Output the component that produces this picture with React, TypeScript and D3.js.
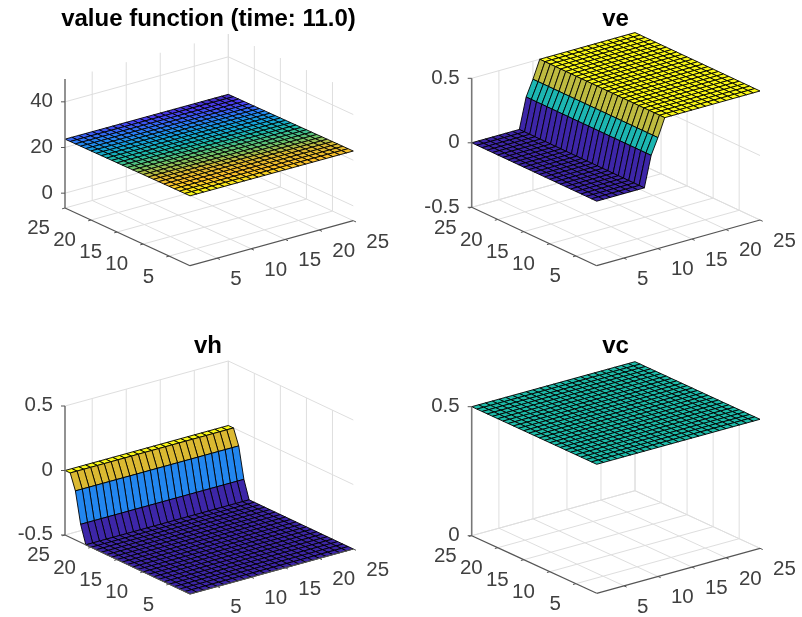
import React from "react";
import * as d3 from "d3";

// ---- data -------------------------------------------------------------
const gridX = [1,2,3,4,5,6,7,8,9,10,11,12,13,14,15,16,17,18,19,20,21,22,23,24,25];
const gridY = [1,2,3,4,5,6,7,8,9,10,11,12,13,14,15,16,17,18,19,20,21,22,23,24,25];
const floorTicks = [5,10,15,20,25];

// value function: level along y (at x = 1) and its small drop along x
const valueByY = [24.10,24.08,24.06,24.05,24.03,24.01,23.99,23.97,23.95,23.94,23.92,23.90,23.88,23.86,23.84,23.83,23.81,23.79,23.77,23.75,23.73,23.72,23.70,23.68,23.66];
const valueDropByX = [0,-0.004,-0.008,-0.011,-0.015,-0.019,-0.022,-0.026,-0.03,-0.034,-0.037,-0.041,-0.045,-0.049,-0.052,-0.056,-0.06,-0.064,-0.067,-0.071,-0.075,-0.079,-0.082,-0.086,-0.09];
// ve depends on x only
const veByX = [0,0,0,0,0,0,0,0,0.237,0.36,0.5,0.5,0.5,0.5,0.5,0.5,0.5,0.5,0.5,0.5,0.5,0.5,0.5,0.5,0.5];
// vh depends on y only
const vhByY = [-0.5,-0.5,-0.5,-0.5,-0.5,-0.5,-0.5,-0.5,-0.5,-0.5,-0.5,-0.5,-0.5,-0.5,-0.5,-0.5,-0.5,-0.5,-0.5,-0.5,-0.5,-0.36,-0.12,0,0];
// vc is flat
const vcLevel = 0.5;

const parulaStops = ["#3e26a8","#4a3af0","#2a7cf6","#12a5d8","#1fbba8","#6cc36a","#d8b832","#fbbf2a","#f9f816"];

// ---- panels -----------------------------------------------------------
type Panel = {
  title: string; titleY: number; cx: number;
  F: [number, number]; L: [number, number]; R: [number, number]; H: number;
  zDomain: [number, number]; zTicks: number[]; zLabels: string[];
  z: (i: number, j: number) => number;
  clim: [number, number];
};

const panels: Panel[] = [
  { title: "value function (time: 11.0)", titleY: 25.5, cx: 208.5, F: [190,265.7], L: [65,208], R: [353.3,220.7], H: 129,
    zDomain: [-6.5,50], zTicks: [0,20,40], zLabels: ["0","20","40"],
    z: (i, j) => valueByY[j] + valueDropByX[i], clim: [23.57,24.10] },
  { title: "ve", titleY: 25.5, cx: 615.5, F: [596.7,265.7], L: [471.7,207.3], R: [760,220], H: 129,
    zDomain: [-0.5,0.5], zTicks: [-0.5,0,0.5], zLabels: ["-0.5","0","0.5"],
    z: (i) => veByX[i], clim: [0,0.5] },
  { title: "vh", titleY: 352.5, cx: 208, F: [190,594], L: [65,535], R: [353.3,549], H: 129,
    zDomain: [-0.5,0.5], zTicks: [-0.5,0,0.5], zLabels: ["-0.5","0","0.5"],
    z: (_i, j) => vhByY[j], clim: [-0.5,0] },
  { title: "vc", titleY: 352.5, cx: 615.5, F: [596.7,593.3], L: [471.7,535.7], R: [760,548.3], H: 129,
    zDomain: [0,0.5], zTicks: [0,0.5], zLabels: ["0","0.5"],
    z: () => vcLevel, clim: [0,1] },
];

const parula = d3.scaleLinear<string>()
  .domain(parulaStops.map((_, i) => i / (parulaStops.length - 1)))
  .range(parulaStops)
  .interpolate(d3.interpolateRgb);

const GRID = "#dedede";
const AXIS = "#555555";
const TEXT = "#404040";
const FONT = "'Liberation Sans', Arial, sans-serif";
const TICK_FONT = 20.5;
const TITLE_FONT = 24;
const lineGen = d3.line<[number, number]>();

function PanelView({ p }: { p: Panel }) {
  const fx = d3.scaleLinear().domain([1,25]).range([0,1]);
  const fy = d3.scaleLinear().domain([1,25]).range([0,1]);
  const fz = d3.scaleLinear().domain(p.zDomain).range([0,p.H]);
  const color = d3.scaleLinear().domain(p.clim).range([0,1]).clamp(true);
  const ux = p.R[0] - p.F[0], uy = p.R[1] - p.F[1];
  const vx = p.L[0] - p.F[0], vy = p.L[1] - p.F[1];
  const proj = (x: number, y: number, h: number): [number, number] => [
    p.F[0] + fx(x) * ux + fy(y) * vx,
    p.F[1] + fx(x) * uy + fy(y) * vy - h,
  ];
  const zMin = fz(p.zDomain[0]);
  const lu = Math.hypot(ux, uy), lv = Math.hypot(vx, vy);
  const seg = (a: [number, number], b: [number, number], stroke: string, w: number, key: string) => (
    <path key={key} d={lineGen([a, b]) as string} stroke={stroke} strokeWidth={w} fill="none" />
  );

  const cells: React.ReactNode[] = [];
  for (let j = gridY.length - 2; j >= 0; j--) {
    for (let i = gridX.length - 2; i >= 0; i--) {
      const pts: [number, number][] = [
        proj(gridX[i], gridY[j], fz(p.z(i, j))),
        proj(gridX[i + 1], gridY[j], fz(p.z(i + 1, j))),
        proj(gridX[i + 1], gridY[j + 1], fz(p.z(i + 1, j + 1))),
        proj(gridX[i], gridY[j + 1], fz(p.z(i, j + 1))),
      ];
      cells.push(
        <path key={`c${i}-${j}`} d={(lineGen(pts) as string) + "Z"}
          fill={parula(color(p.z(i, j)))} stroke="#000" strokeWidth={0.9} strokeLinejoin="round" />
      );
    }
  }

  const top = fz(p.zDomain[1]);
  return (
    <g>
      {floorTicks.map(t => (
        <g key={`g${t}`}>
          {seg(proj(t,1,zMin), proj(t,25,zMin), GRID, 1, "a")}
          {seg(proj(1,t,zMin), proj(25,t,zMin), GRID, 1, "b")}
          {seg(proj(t,25,zMin), proj(t,25,top), GRID, 1, "c")}
          {seg(proj(25,t,zMin), proj(25,t,top), GRID, 1, "d")}
        </g>
      ))}
      {p.zTicks.map(t => (
        <g key={`zg${t}`}>
          {seg(proj(1,25,fz(t)), proj(25,25,fz(t)), GRID, 1, "a")}
          {seg(proj(25,25,fz(t)), proj(25,1,fz(t)), GRID, 1, "b")}
        </g>
      ))}
      {cells}
      {seg(proj(1,1,zMin), proj(25,1,zMin), AXIS, 1.2, "ax")}
      {seg(proj(1,1,zMin), proj(1,25,zMin), AXIS, 1.2, "ay")}
      {seg(proj(1,25,zMin), proj(1,25,top), "#777", 1.6, "az")}
      {floorTicks.map(t => {
        const a = proj(t,1,zMin), b = proj(1,t,zMin);
        return (
          <g key={`t${t}`}>
            {seg(a, [a[0] - 3 * vx / lv, a[1] - 3 * vy / lv], AXIS, 1, "x")}
            {seg(b, [b[0] - 3 * ux / lu, b[1] - 3 * uy / lu], AXIS, 1, "y")}
            <text x={a[0] + 13} y={a[1] + 21.5} fontSize={TICK_FONT} fontFamily={FONT} fill={TEXT}
              textAnchor="start" dominantBaseline="middle">{t}</text>
            <text x={b[0] - 15} y={b[1] + 21} fontSize={TICK_FONT} fontFamily={FONT} fill={TEXT}
              textAnchor="end" dominantBaseline="middle">{t}</text>
          </g>
        );
      })}
      {p.zTicks.map((t, k) => {
        const a = proj(1,25,fz(t));
        return (
          <g key={`zt${t}`}>
            {seg(a, [a[0] - 4, a[1]], AXIS, 1, "t")}
            <text x={a[0] - 12} y={a[1]} fontSize={TICK_FONT} fontFamily={FONT} fill={TEXT}
              textAnchor="end" dominantBaseline="middle">{p.zLabels[k]}</text>
          </g>
        );
      })}
      <text x={p.cx} y={p.titleY} fontSize={TITLE_FONT} fontWeight="bold" fontFamily={FONT} fill="#000"
        textAnchor="middle">{p.title}</text>
    </g>
  );
}

export default function App() {
  return (
    <svg width={802} height={617} viewBox="0 0 802 617"
      style={{ position: "absolute", left: 0, top: 0, background: "#fff" }}>
      <defs>
        <filter id="soft" x="0" y="0" width="100%" height="100%" filterUnits="objectBoundingBox">
          <feGaussianBlur stdDeviation="0.4" />
        </filter>
      </defs>
      <g filter="url(#soft)">
        <rect width={802} height={617} fill="#fff" />
        {panels.map(p => <PanelView key={p.title} p={p} />)}
      </g>
    </svg>
  );
}
